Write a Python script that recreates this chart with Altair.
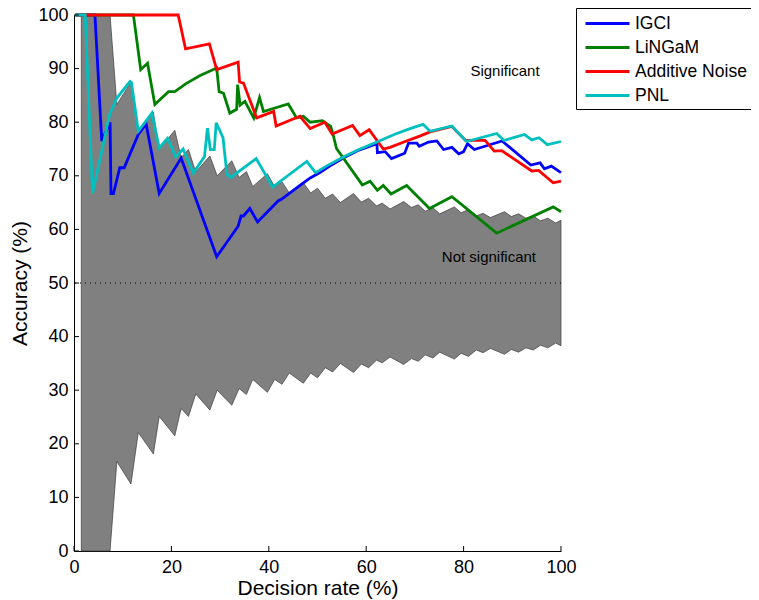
import altair as alt
import pandas as pd

FONT = "Liberation Sans"

# ---------------- data ----------------
x_ticks = [0, 20, 40, 60, 80, 100]
y_ticks = [0, 10, 20, 30, 40, 50, 60, 70, 80, 90, 100]

band_x = [1.5, 7.4, 8.8, 11.7, 13.2, 16.3, 17.5, 20.7, 22.0, 23.5, 25.0, 27.9, 29.4, 32.4,
          33.9, 35.4, 36.7, 39.7, 41.2, 42.7, 44.2, 47.1, 48.6, 50.0, 51.6, 53.1, 54.7, 57.4,
          59.0, 60.5, 62.1, 63.3, 64.9, 67.7, 69.3, 70.7, 72.1, 73.7, 75.1, 78.1, 79.5, 81.0,
          82.6, 84.0, 85.5, 88.4, 89.8, 91.3, 92.8, 94.3, 95.8, 97.3, 98.9, 100]
band_lo = [0, 0, 16.7, 12.5, 22.1, 18.1, 25.1, 21.5, 26.6, 25.1, 29.3, 26.3, 30.0, 27.2,
           30.3, 29.2, 32.0, 29.6, 32.0, 31.1, 33.2, 31.3, 33.2, 32.3, 34.2, 33.4, 35.0, 33.3,
           34.9, 34.2, 35.6, 35.1, 36.2, 34.8, 35.9, 35.4, 36.6, 36.0, 37.1, 35.8, 36.9, 36.3,
           37.5, 37.0, 37.8, 36.7, 37.6, 37.1, 37.9, 37.5, 38.4, 37.9, 38.8, 38.3]
band_hi = [100, 100, 83.3, 87.5, 77.9, 81.9, 74.9, 78.5, 73.4, 74.9, 70.7, 73.7, 70.0, 72.8,
           69.7, 70.8, 68.0, 70.4, 68.0, 68.9, 66.8, 68.7, 66.8, 67.7, 65.8, 66.6, 65.0, 66.7,
           65.1, 65.8, 64.4, 64.9, 63.8, 65.2, 64.1, 64.6, 63.4, 64.0, 62.9, 64.2, 63.1, 63.7,
           62.5, 63.0, 62.2, 63.3, 62.4, 62.9, 62.1, 62.5, 61.6, 62.1, 61.2, 61.7]

series = ["IGCI", "LiNGaM", "Additive Noise", "PNL"]
colors = ["#0000FF", "#008000", "#FF0000", "#00BFBF"]

igci_x = [0.3, 4.3, 5.7, 7.4, 7.6, 8.1, 9.4, 10.3, 13.2, 14.8, 17.5, 22.0, 29.3, 33.7, 34.3,
          34.8, 36.1, 37.7, 41.9, 42.6, 45.5, 48.5, 50.5, 52.5, 55.3, 58.5, 62.2, 62.3, 63.9,
          65.2, 67.9, 68.7, 70.4, 70.9, 72.8, 74.5, 75.9, 77.6, 79.0, 80.0, 80.8, 82.2, 87.9,
          93.8, 95.7, 96.6, 98.0, 100]
igci_y = [100, 100, 76.5, 80.0, 66.7, 66.7, 71.5, 71.5, 77.7, 79.7, 66.7, 73.3, 54.9, 60.6, 62.5,
          62.5, 63.9, 61.4, 65.3, 65.6, 67.6, 69.6, 70.6, 71.8, 73.3, 74.8, 76.0, 74.3, 74.5,
          73.2, 74.2, 76.1, 76.1, 75.5, 76.3, 76.5, 74.9, 75.3, 74.1, 74.5, 76.0, 74.9, 76.5,
          72.0, 72.4, 71.3, 71.8, 70.6]

lingam_x = [0.3, 12.2, 13.7, 15.1, 16.6, 19.4, 20.7, 23.0, 25.9, 29.3, 29.8, 30.7, 32.0, 33.4,
            33.6, 34.1, 35.1, 36.9, 38.1, 38.9, 44.0, 45.7, 47.1, 48.5, 51.0, 52.7, 53.2, 53.9,
            59.2, 60.8, 62.3, 63.5, 65.1, 68.3, 73.0, 77.6, 86.8, 98.4, 100]
lingam_y = [100, 100, 89.8, 91.0, 83.3, 85.7, 85.7, 87.2, 88.7, 90.1, 85.7, 85.4, 81.7, 82.4,
            87.0, 83.2, 83.9, 80.8, 84.6, 82.0, 83.4, 80.8, 81.1, 80.0, 80.3, 79.2, 77.7, 75.1,
            68.3, 69.0, 67.3, 68.2, 66.6, 68.2, 63.9, 66.1, 59.3, 64.2, 63.3]

an_x = [0.3, 21.4, 22.9, 27.8, 29.3, 33.7, 34.0, 34.8, 37.5, 41.0, 41.5, 46.4, 48.5, 51.5, 53.0,
        57.2, 58.7, 60.6, 63.5, 64.9, 68.0, 71.0, 73.1, 77.6, 80.4, 84.4, 86.3, 87.8, 94.0,
        95.4, 98.4, 100]
an_y = [100, 100, 93.7, 94.6, 89.8, 91.2, 87.5, 87.3, 80.8, 82.0, 79.3, 81.1, 78.8, 80.0, 77.8,
        79.4, 77.5, 78.6, 75.0, 75.3, 76.4, 77.4, 78.2, 79.2, 76.6, 76.6, 74.6, 74.7, 70.9,
        71.0, 68.7, 69.0]

pnl_x = [0.3, 2.3, 3.8, 5.7, 7.3, 8.8, 11.5, 11.8, 13.2, 16.0, 17.5, 19.2, 20.9, 22.4, 24.5,
         26.8, 27.4, 28.0, 28.8, 29.2, 30.6, 31.4, 32.2, 37.4, 40.8, 47.8, 49.6, 52.0, 55.3,
         58.5, 62.2, 66.0, 69.0, 71.7, 73.1, 77.6, 80.6, 86.8, 88.3, 92.5, 94.0, 95.5, 97.2, 100]
pnl_y = [100, 100, 66.7, 74.6, 81.4, 84.5, 87.6, 87.4, 78.3, 81.7, 75.2, 77.0, 73.5, 75.0, 70.5,
         73.6, 78.9, 74.9, 74.9, 79.9, 77.1, 70.3, 69.7, 73.2, 67.9, 72.7, 70.6, 71.9, 73.5,
         74.9, 76.3, 77.8, 78.8, 79.6, 78.3, 79.3, 76.4, 77.9, 76.6, 77.7, 76.7, 77.1, 75.8, 76.4]

labels_text = ["Significant", "Not significant"]
labels_x = [88.5, 85.2]
labels_y = [89.6, 54.9]

# ---------------- tables ----------------
band = pd.DataFrame({"x": band_x, "lo": band_lo, "hi": band_hi})

rows = []
for name, xs, ys in [("IGCI", igci_x, igci_y), ("LiNGaM", lingam_x, lingam_y),
                     ("Additive Noise", an_x, an_y), ("PNL", pnl_x, pnl_y)]:
    for i, (a, b) in enumerate(zip(xs, ys)):
        rows.append({"method": name, "x": a, "y": b, "i": i})
lines_df = pd.DataFrame(rows)

W, H = 487, 536

xscale = alt.Scale(domain=[0, 100], nice=False, zero=False)
yscale = alt.Scale(domain=[0, 100], nice=False, zero=False)

xaxis = alt.Axis(title="Decision rate (%)", values=x_ticks, tickSize=0, labelPadding=7,
                 grid=False, domainColor="black", domainWidth=1, labelFontSize=18,
                 titleFontSize=21, titleFontWeight="normal", labelFont=FONT, titleFont=FONT,
                 labelColor="black", titleColor="black", titlePadding=1, labelFlush=False)
yaxis = alt.Axis(title="Accuracy (%)", values=y_ticks, tickSize=0, labelPadding=6,
                 grid=False, domainColor="black", domainWidth=1, labelFontSize=18,
                 titleFontSize=21, titleFontWeight="normal", labelFont=FONT, titleFont=FONT,
                 labelColor="black", titleColor="black", titlePadding=7, labelFlush=False)

area = alt.Chart(band).mark_area(fill="#808080", stroke="#3c3c3c", strokeWidth=0.7,
                                 interpolate="linear").encode(
    x=alt.X("x:Q", scale=xscale, axis=xaxis),
    y=alt.Y("lo:Q", scale=yscale, axis=yaxis),
    y2="hi:Q",
)

mid = alt.Chart(pd.DataFrame({"y": [50]})).mark_rule(
    color="black", strokeDash=[1, 4], strokeWidth=1).encode(
    y=alt.Y("y:Q", scale=yscale, axis=yaxis))

xt = alt.Chart(pd.DataFrame({"x": x_ticks})).mark_rule(color="black", strokeWidth=1).encode(
    x=alt.X("x:Q", scale=xscale, axis=xaxis), y=alt.value(H), y2=alt.value(H - 5))
yt = alt.Chart(pd.DataFrame({"y": y_ticks})).mark_rule(color="black", strokeWidth=1).encode(
    y=alt.Y("y:Q", scale=yscale, axis=yaxis), x=alt.value(0), x2=alt.value(5))

lines = alt.Chart(lines_df).mark_line(strokeWidth=2.8, interpolate="linear").encode(
    x=alt.X("x:Q", scale=xscale, axis=xaxis),
    y=alt.Y("y:Q", scale=yscale, axis=yaxis),
    color=alt.Color("method:N", sort=series,
                    scale=alt.Scale(domain=series, range=colors),
                    legend=alt.Legend(title=None, orient="none", legendX=502, legendY=-7,
                                      strokeColor="black", fillColor="white", padding=5,
                                      symbolType="M-2.5,0H2.5", symbolSize=310,
                                      symbolStrokeWidth=3, symbolOffset=16,
                                      labelFontSize=17.5, labelFont=FONT,
                                      labelColor="black", rowPadding=5, labelOffset=17,
                                      labelLimit=300)),
    order="i:Q",
)

txt = alt.Chart(pd.DataFrame({"t": labels_text, "x": labels_x, "y": labels_y})).mark_text(
    font=FONT, fontSize=15, color="black", align="center", baseline="middle").encode(
    x=alt.X("x:Q", scale=xscale, axis=xaxis),
    y=alt.Y("y:Q", scale=yscale, axis=yaxis),
    text="t:N")

chart = alt.layer(area, mid, lines, txt, xt, yt).properties(
    width=W, height=H,
    padding={"left": 66, "top": 7, "right": 190, "bottom": 50},
    autosize="none",
).configure_view(stroke=None)

chart.save("out.html", embed_options={"renderer": "svg", "actions": False})
